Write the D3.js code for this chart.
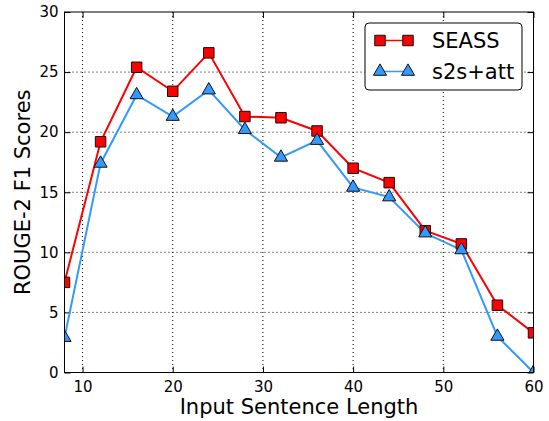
<!DOCTYPE html>
<html>
<head>
<meta charset="utf-8">
<script src="https://d3js.org/d3.v7.min.js"></script>
<style>
  body { margin: 0; background: #fff; }
  text { font-family: "DejaVu Sans", sans-serif; }
</style>
</head>
<body>
<div id="chart"></div>
<script>
// chart values
var lengths = [8, 12, 16, 20, 24, 28, 32, 36, 40, 44, 48, 52, 56, 60];
var seass = [7.5, 19.2, 25.4, 23.4, 26.6, 21.3, 21.2, 20.1, 17.0, 15.8, 11.8, 10.7, 5.6, 3.3];
var s2sAtt = [2.9, 17.4, 23.1, 21.3, 23.5, 20.2, 17.9, 19.3, 15.4, 14.6, 11.6, 10.2, 3.0, 0.0];
var xTicks = [10, 20, 30, 40, 50, 60];
var yTicks = [0, 5, 10, 15, 20, 25, 30];
var seriesNames = ["SEASS", "s2s+att"];

var svgWidth = 549;
var svgHeight = 421;
var margin = { top: 12, right: 15.5, bottom: 48.5, left: 64.5 };
var chartWidth = svgWidth - margin.left - margin.right;
var chartHeight = svgHeight - margin.top - margin.bottom;

var svg = d3.select("#chart").append("svg")
  .attr("width", svgWidth)
  .attr("height", svgHeight);

var chartGroup = svg.append("g")
  .attr("transform", `translate(${margin.left}, ${margin.top})`);

var x = d3.scaleLinear().domain([8, 60]).range([0, chartWidth]);
var y = d3.scaleLinear().domain([0, 30]).range([chartHeight, 0]);

svg.append("defs").append("clipPath").attr("id", "plotclip")
  .append("rect").attr("width", chartWidth).attr("height", chartHeight);

// grid
chartGroup.append("g").selectAll("line").data(xTicks.filter(d => d < 60)).enter()
  .append("line")
  .attr("x1", d => x(d)).attr("x2", d => x(d))
  .attr("y1", 0).attr("y2", chartHeight)
  .attr("stroke", "#000").attr("stroke-width", 1).attr("stroke-dasharray", "1,3");
chartGroup.append("g").selectAll("line").data(yTicks.filter(d => d > 0 && d < 30)).enter()
  .append("line")
  .attr("y1", d => y(d)).attr("y2", d => y(d))
  .attr("x1", 0).attr("x2", chartWidth)
  .attr("stroke", "#000").attr("stroke-width", 1).attr("stroke-dasharray", "1,3");

// axes, ticks inside like matplotlib classic
var bottomAxis = d3.axisBottom(x).tickValues(xTicks).tickSizeInner(-6).tickSizeOuter(0).tickPadding(9);
var leftAxis = d3.axisLeft(y).tickValues(yTicks).tickSizeInner(-6).tickSizeOuter(0).tickPadding(6);
var topAxis = d3.axisTop(x).tickValues(xTicks).tickSizeInner(-6).tickSizeOuter(0).tickFormat("");
var rightAxis = d3.axisRight(y).tickValues(yTicks).tickSizeInner(-6).tickSizeOuter(0).tickFormat("");

function styleAxis(g) {
  g.select(".domain").remove();
  g.selectAll("line").attr("stroke", "#000");
  g.selectAll("text").attr("font-size", 15).attr("fill", "#000")
    .style("font-family", "DejaVu Sans, sans-serif");
}
chartGroup.append("g").attr("transform", `translate(0, ${chartHeight})`).call(bottomAxis).call(styleAxis);
chartGroup.append("g").call(leftAxis).call(styleAxis);
chartGroup.append("g").call(topAxis).call(styleAxis);
chartGroup.append("g").attr("transform", `translate(${chartWidth}, 0)`).call(rightAxis).call(styleAxis);

// series
var series = [
  { name: seriesNames[0], values: seass, color: "#ff0000", marker: d3.symbolSquare, size: 110 },
  { name: seriesNames[1], values: s2sAtt, color: "#3399ff", marker: d3.symbolTriangle, size: 75 }
];

var plot = chartGroup.append("g").attr("clip-path", "url(#plotclip)");
var line = d3.line().x((d, i) => x(lengths[i])).y(d => y(d));

series.forEach(function(s) {
  plot.append("path")
    .datum(s.values)
    .attr("d", line)
    .attr("fill", "none")
    .attr("stroke", s.color)
    .attr("stroke-width", 2);
});
series.forEach(function(s) {
  plot.selectAll(null).data(s.values).enter()
    .append("path")
    .attr("d", d3.symbol().type(s.marker).size(s.size))
    .attr("transform", (d, i) => `translate(${x(lengths[i])}, ${y(d)})`)
    .attr("fill", s.color)
    .attr("stroke", "#111")
    .attr("stroke-width", 1);
});

// frame
chartGroup.append("rect")
  .attr("width", chartWidth).attr("height", chartHeight)
  .attr("fill", "none").attr("stroke", "#000").attr("stroke-width", 1);

// legend
var legend = chartGroup.append("g").attr("transform", `translate(${365 - margin.left}, ${23 - margin.top})`);
legend.append("rect")
  .attr("width", 157).attr("height", 67).attr("rx", 4)
  .attr("fill", "#fff").attr("stroke", "#000").attr("stroke-width", 1);
series.forEach(function(s, i) {
  var ly = 17.5 + i * 31;
  legend.append("line").attr("x1", 15).attr("x2", 43).attr("y1", ly).attr("y2", ly)
    .attr("stroke", s.color).attr("stroke-width", 1.5);
  [15, 43].forEach(function(mx) {
    legend.append("path")
      .attr("d", d3.symbol().type(s.marker).size(s.size))
      .attr("transform", `translate(${mx}, ${ly})`)
      .attr("fill", s.color).attr("stroke", "#111").attr("stroke-width", 1);
  });
  legend.append("text").attr("x", 67).attr("y", ly + 7.5)
    .attr("font-size", 21).text(s.name);
});

// axis labels
svg.append("text")
  .attr("x", margin.left + chartWidth / 2).attr("y", 414)
  .attr("text-anchor", "middle").attr("font-size", 21)
  .text("Input Sentence Length");
svg.append("text")
  .attr("transform", `translate(30, ${margin.top + chartHeight / 2}) rotate(-90)`)
  .attr("text-anchor", "middle").attr("font-size", 21)
  .text("ROUGE-2 F1 Scores");
</script>
</body>
</html>
